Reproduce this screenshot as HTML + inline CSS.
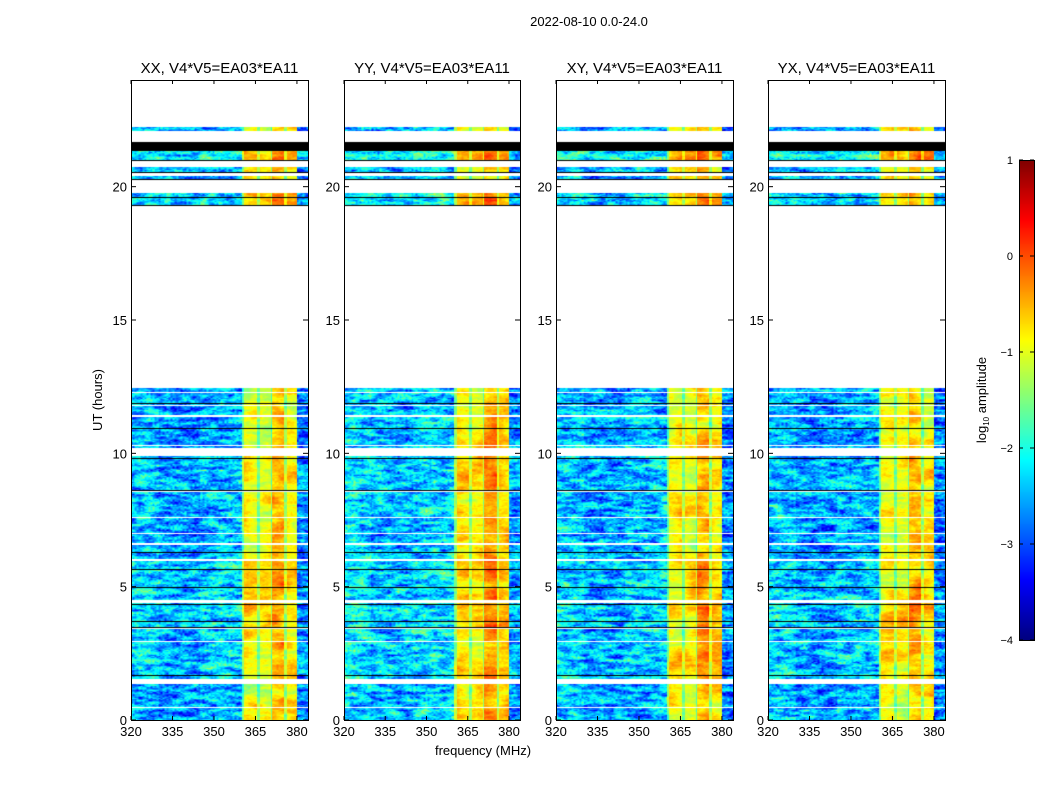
<!DOCTYPE html>
<html><head><meta charset="utf-8"><style>
body{margin:0;background:#fff;width:1050px;height:800px;overflow:hidden;font-family:"Liberation Sans",sans-serif}
#wrap{position:relative;width:1050px;height:800px}
canvas{position:absolute}
svg{position:absolute;left:0;top:0}
</style></head><body><div id="wrap">
<canvas id="c0" width="177" height="640" style="left:131px;top:80px"></canvas>
<canvas id="c1" width="176" height="640" style="left:344px;top:80px"></canvas>
<canvas id="c2" width="177" height="640" style="left:556px;top:80px"></canvas>
<canvas id="c3" width="177" height="640" style="left:768px;top:80px"></canvas>
<canvas id="cb" width="15" height="480" style="left:1019px;top:160px"></canvas>
<svg id="ov" width="1050" height="800"></svg>
</div>
<script>
const panelTitles=["XX, V4*V5=EA03*EA11","YY, V4*V5=EA03*EA11","XY, V4*V5=EA03*EA11","YX, V4*V5=EA03*EA11"];
const panelLeft=[131,344,556,768];
const panelWidth=[177,176,177,177];
const xTicks=[320,335,350,365,380];
const yTicks=[0,5,10,15,20];
const cbTicks=[1,0,-1,-2,-3,-4];
// frequency bands: [startMHz, endMHz, log amplitude]
const bandStart=[320,330,345,360,361,365.5,366.5,370.5,371,375.5,376.5,380];
const bandEnd  =[330,345,360,361,365.5,366.5,370.5,371,375.5,376.5,380,384];
const bandLevel=[-2.45,-2.65,-2.5,-1.6,-0.95,-1.55,-1.0,-1.6,-0.6,-1.4,-0.85,-2.8];
// data intervals in UT hours
const segStart=[0,0.27,0.48,1.54,2.96,3.47,4.5,6.02,6.62,7.02,7.62,8.58,10.2,10.32,11.42,11.82,12.29,19.3,20.27,20.55,21.0,22.1];
const segEnd  =[0.25,0.45,1.34,2.92,3.43,4.4,5.98,6.58,6.98,7.58,8.54,9.9,10.28,11.38,11.78,12.25,12.45,19.75,20.4,20.75,21.35,22.25];
const segGain =[0.0,0.0,0.0,0.15,0.1,0.2,0.15,0.0,0.0,0.0,0.05,0.1,0.0,0.0,0.0,0.0,0.0,0.2,0.0,0.0,0.4,0.0];
const blackLines=[1.69,3.5,3.71,4.34,5.0,5.65,6.31,8.62,9.81,10.96,11.9,19.3,19.62,20.3,20.54,21.0];
const blackBandStart=[21.35];
const blackBandEnd=[21.66];
const panelGain=[0,0.12,0.02,0.0];

const x0=320,x1=384,yMax=24,H=640;
function xs(f,w){return (f-x0)/(x1-x0)*w;}
function ys(h){return H-(h/yMax)*H;}
function jet(v){
  const r=Math.min(1,Math.max(0,Math.min(4*v-1.5,-4*v+4.5)));
  const g=Math.min(1,Math.max(0,Math.min(4*v-0.5,-4*v+3.5)));
  const b=Math.min(1,Math.max(0,Math.min(4*v+0.5,-4*v+2.5)));
  return [r*255,g*255,b*255];
}
function hsh(a,b,s){let n=a*374761393+b*668265263+s*982451653;n=(n^(n>>>13))*1274126177;n=n^(n>>>16);return ((n>>>0)%10000)/10000;}
function vnoise(x,y,s){const ix=Math.floor(x),iy=Math.floor(y),fx=x-ix,fy=y-iy;
  const a=hsh(ix,iy,s),b=hsh(ix+1,iy,s),c=hsh(ix,iy+1,s),d=hsh(ix+1,iy+1,s);
  return (a*(1-fx)+b*fx)*(1-fy)+(c*(1-fx)+d*fx)*fy;}
function bandAt(f){for(let i=0;i<bandStart.length;i++){if(f>=bandStart[i]&&f<bandEnd[i])return bandLevel[i];}return -2.5;}
for(let p=0;p<4;p++){
  const cv=document.getElementById('c'+p),W=panelWidth[p],ctx=cv.getContext('2d');
  const img=ctx.createImageData(W,H),d=img.data;
  for(let y=0;y<H;y++){
    const hr=(H-y-0.5)/H*yMax;
    let seg=-1;for(let i=0;i<segStart.length;i++){if(hr>=segStart[i]&&hr<segEnd[i]){seg=i;break;}}
    let black=false;
    for(const b of blackLines){if(Math.abs(ys(b)-y)<0.55)black=true;}
    for(let i=0;i<blackBandStart.length;i++){if(hr>=blackBandStart[i]&&hr<blackBandEnd[i])black=true;}
    for(let x=0;x<W;x++){
      const k=(y*W+x)*4;let col;
      if(black){col=[0,0,0];}
      else if(seg<0){col=[255,255,255];}
      else{
        const f=x0+(x+0.5)/W*(x1-x0);
        let v=bandAt(f)+segGain[seg]+panelGain[p];
        const isBand=f>=360&&f<380;
        const n=vnoise(x/9,y/2.5,p)*1.0+vnoise(x/2,y/1.2,p+9)*0.6-0.8;
        if(isBand){
          const patch=vnoise(f/5,y/12,p+21)-0.5;
          v+=n*0.5+patch*0.9;
        } else v+=n*1.5;
        const t=Math.min(1,Math.max(0,(v+4)/5));
        col=jet(t);
      }
      d[k]=col[0];d[k+1]=col[1];d[k+2]=col[2];d[k+3]=255;
    }
  }
  ctx.putImageData(img,0,0);
}
{const cv=document.getElementById('cb'),ctx=cv.getContext('2d');
 for(let y=0;y<480;y++){const c=jet(1-(y+0.5)/480);ctx.fillStyle=`rgb(${c[0]|0},${c[1]|0},${c[2]|0})`;ctx.fillRect(0,y,15,1);}}
const NS="http://www.w3.org/2000/svg",ov=document.getElementById('ov');
function mk(tag,at,txt){const e=document.createElementNS(NS,tag);for(const k in at)e.setAttribute(k,at[k]);if(txt!==undefined)e.textContent=txt;ov.appendChild(e);return e;}
let t=mk('text',{x:589,y:26,'font-size':13,'text-anchor':'middle','font-family':'Liberation Sans'},'2022-08-10 0.0-24.0');


for(let p=0;p<4;p++){
  const L=panelLeft[p],W=panelWidth[p];
  const fr=mk('rect',{x:L+0.5,y:80.5,width:W,height:H,fill:'none',stroke:'#000','stroke-width':1});
  
  
  const ti=mk('text',{x:L+W/2,y:73,'font-size':15,'text-anchor':'middle','font-family':'Liberation Sans'},panelTitles[p]);
  
  
  for(const xt of xTicks){
    const X=L+xs(xt,W);
    mk('line',{x1:X,y1:720,x2:X,y2:716,stroke:'#000'});
    mk('line',{x1:X,y1:80,x2:X,y2:84,stroke:'#000'});
    const tl=mk('text',{x:X,y:736,'font-size':13,'text-anchor':'middle','font-family':'Liberation Sans'},String(xt));
    
    
  }
  for(const yt of yTicks){
    const Y=80+ys(yt);
    mk('line',{x1:L,y1:Y,x2:L+5,y2:Y,stroke:'#000'});
    mk('line',{x1:L+W,y1:Y,x2:L+W-5,y2:Y,stroke:'#000'});
    const tl=mk('text',{x:L-4,y:Y+5,'font-size':13,'text-anchor':'end','font-family':'Liberation Sans'},String(yt));
    
    
  }
}
t=mk('text',{x:483,y:755,'font-size':13,'text-anchor':'middle','font-family':'Liberation Sans'},'frequency (MHz)');


t=mk('text',{x:0,y:0,'font-size':13,'text-anchor':'middle','font-family':'Liberation Sans',transform:'translate(102,400) rotate(-90)'},'UT (hours)');


const cbf=mk('rect',{x:1019.5,y:160.5,width:15,height:480,fill:'none',stroke:'#000'});


for(const c of cbTicks){
  const Y=160+(1-c)/5*480;
  mk('line',{x1:1019,y1:Y,x2:1023,y2:Y,stroke:'#000'});
  mk('line',{x1:1034,y1:Y,x2:1030,y2:Y,stroke:'#000'});
  const tl=mk('text',{x:1013,y:Y+4,'font-size':11,'text-anchor':'end','font-family':'Liberation Sans'},c<0?'\u2212'+(-c):String(c));
  
  
}
t=mk('text',{x:0,y:0,'font-size':13,'text-anchor':'middle','font-family':'Liberation Sans',transform:'translate(986,400) rotate(-90)'});
t.innerHTML='log<tspan font-size="8" dy="3">10</tspan><tspan dy="-3"> amplitude</tspan>';


</script></body></html>
